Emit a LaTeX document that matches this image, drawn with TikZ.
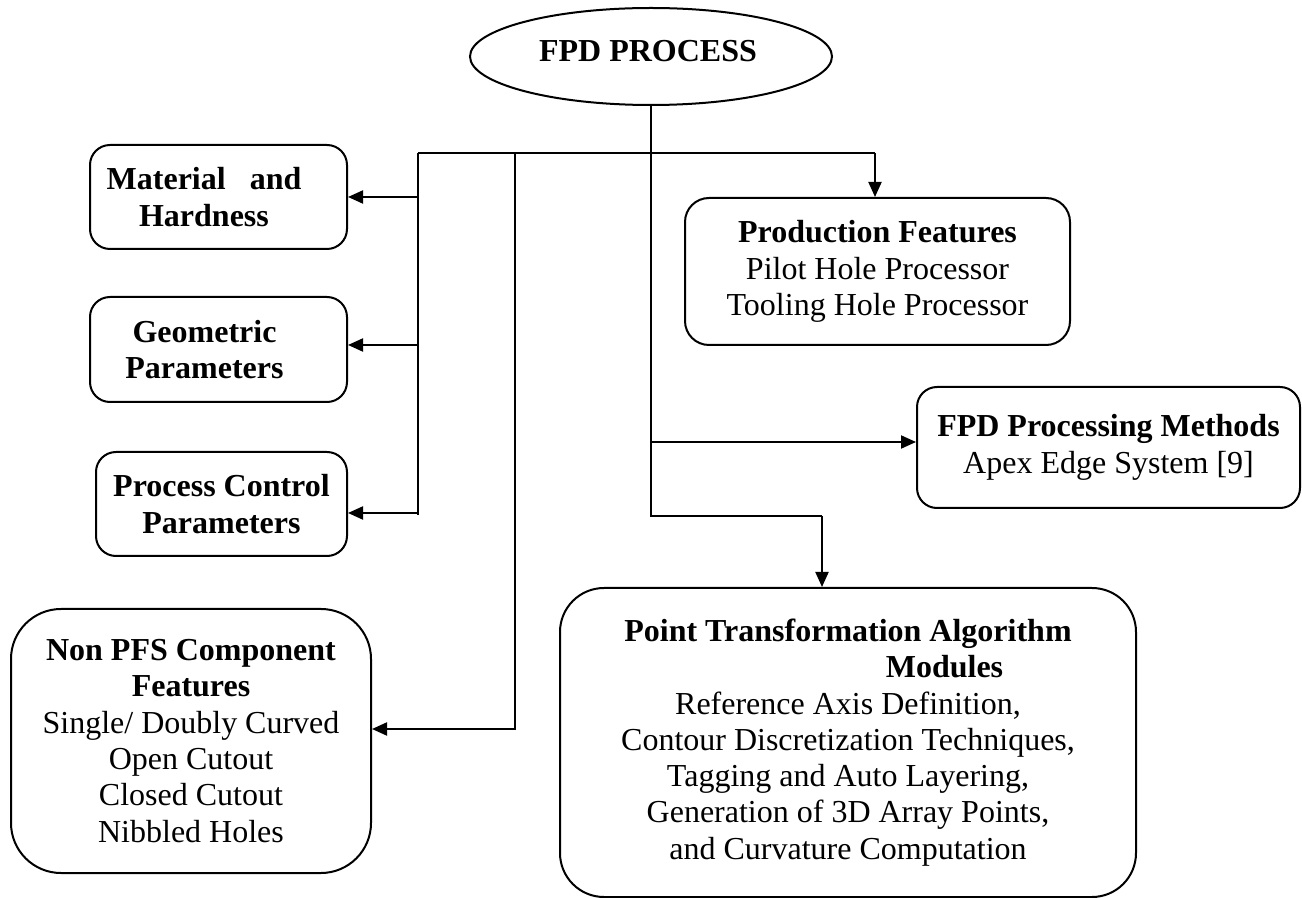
\documentclass[tikz,border=0pt]{standalone}
\usepackage{fontspec}
\setmainfont{Liberation Serif}
\usetikzlibrary{arrows.meta,shapes.geometric}
\begin{document}
\begin{tikzpicture}[x=0.5pt,y=-0.5pt,
  every node/.style={font=\fontsize{16pt}{18.15pt}\selectfont, align=center, inner sep=0pt, line width=1pt},
  box/.style={draw, rounded corners=10pt},
  bigbox/.style={draw, rounded corners=24pt},
  line/.style={line width=1pt},
  arr/.style={line width=1pt, -{Triangle[length=7.5pt,width=6.5pt]}}]
\useasboundingbox (0,0) rectangle (1302,898);

\node[draw, ellipse, minimum width=181pt, minimum height=48.5pt] (ell) at (651,56.5)
  {\raisebox{2.75pt}[\height][\depth]{\textbf{FPD PROCESS}}\hspace*{3pt}};

\node[box, minimum width=128.5pt, minimum height=52pt] (mat) at (218.5,197)
  {\textbf{Material\ \ \ and}\hspace*{14.5pt}\\\textbf{Hardness}\hspace*{14.5pt}};
\node[box, minimum width=128.5pt, minimum height=52.5pt] (geo) at (218.5,349.5)
  {\textbf{Geometric}\hspace*{14pt}\\\textbf{Parameters}\hspace*{14pt}};
\node[box, minimum width=125.5pt, minimum height=52pt] (proc) at (221.5,504)
  {\textbf{Process Control}\\\textbf{Parameters}};
\node[bigbox, rounded corners=25pt, minimum width=180pt, minimum height=132pt] (non) at (191,741)
  {\textbf{Non PFS Component}\\\textbf{Features}\\Single/ Doubly Curved\\Open Cutout\\Closed Cutout\\Nibbled Holes};

\node[box, rounded corners=12pt, minimum width=192.5pt, minimum height=73.5pt] (prod) at (877.5,271.5)
  {\textbf{Production Features}\\Pilot Hole Processor\\Tooling Hole Processor};
\node[box, minimum width=191.5pt, minimum height=60.5pt] (meth) at (1108.5,447.5)
  {\textbf{FPD Processing Methods}\\Apex Edge System [9]};
\node[bigbox, rounded corners=22pt, minimum width=288pt, minimum height=154.5pt] (pt) at (848,742.5)
  {\textbf{Point Transformation Algorithm}\\\hspace*{96.5pt}\textbf{Modules}\\Reference Axis Definition,\\Contour Discretization Techniques,\\Tagging and Auto Layering,\\Generation of 3D Array Points,\\and Curvature Computation};

\coordinate (hl) at (418,153);
\coordinate (hm) at (515,153);
\coordinate (hr) at (875,153);
\coordinate (pa) at (822,516);

\draw[line] (hl) -- (hr);
\draw[arr] (hr) -- (hr |- prod.north);
\draw[line] (ell.south) |- (pa);
\draw[arr] (pa) -- (pa |- pt.north);
\draw[arr] (ell.south |- 0,442) -- ([yshift=2.75pt]meth.west);
\draw[line] (hl) -- (hl |- 0,515);
\draw[arr] (hl |- mat.east) -- (mat.east);
\draw[arr] (hl |- 0,345) -- ([yshift=2.25pt]geo.east);
\draw[arr] (hl |- 0,513) -- ([yshift=-4.5pt]proc.east);
\draw[arr] (hm) |- ([yshift=6pt]non.east);
\end{tikzpicture}
\end{document}
